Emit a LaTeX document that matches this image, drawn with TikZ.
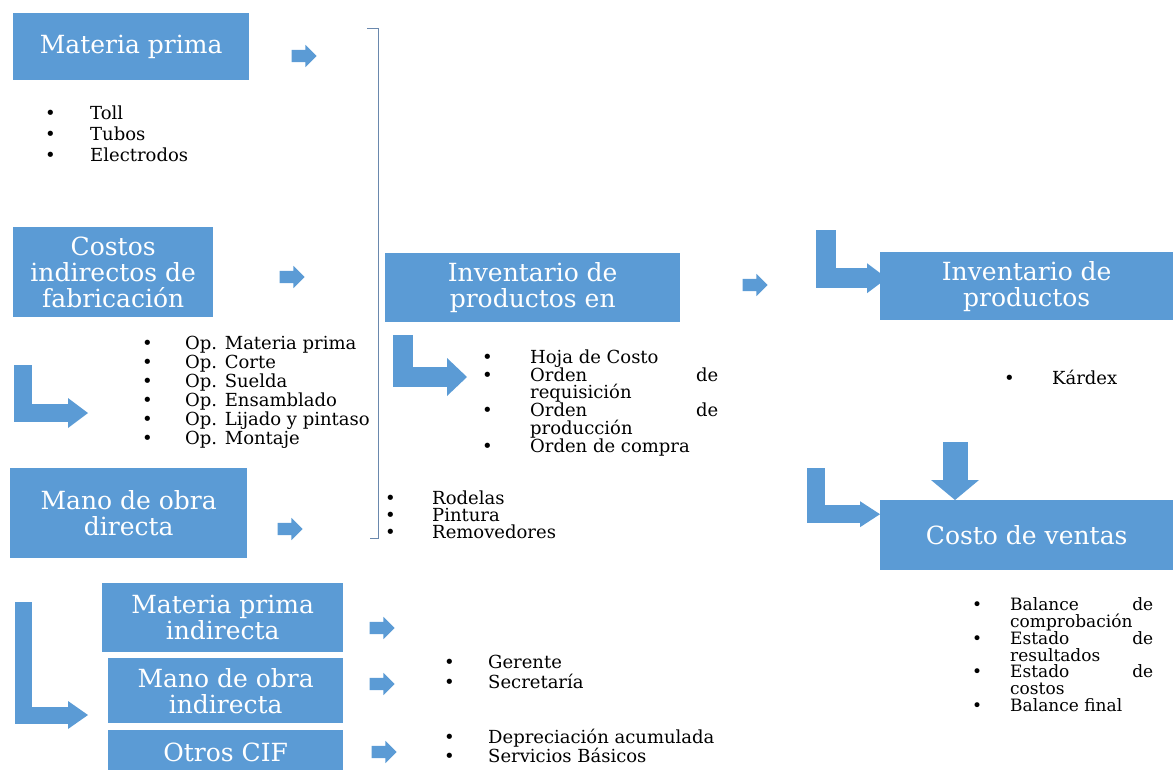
\documentclass[tikz,border=0pt]{standalone}
\usepackage{fontspec}
\setmainfont{DejaVu Serif}
\usetikzlibrary{shapes.arrows,arrows.meta}

\definecolor{boxblue}{HTML}{5B9BD5}
\definecolor{brkline}{HTML}{6A88AD}

% bullet item and its continued line
\newcommand{\itm}[2][45pt]{\makebox[#1][l]{\textbullet}#2}
\newcommand{\cont}[2][45pt]{\hspace*{#1}#2}

\begin{document}
\begin{tikzpicture}[x=1pt, y=-1pt,
                    box/.style={rectangle, fill=boxblue, text=white, align=center, inner sep=0pt, anchor=north west,
                                font=\fontsize{25}{26}\selectfont},
                    lst/.style={anchor=north west, inner sep=0pt, align=left},
                    arr/.style={single arrow, fill=boxblue, minimum height=25pt, inner xsep=0pt, inner ysep=6pt,
                                single arrow head extend=5pt, text height=0pt, text depth=0pt},
                    fat/.style 2 args={draw=boxblue, line width=#1, line join=miter,
                                       -{Triangle[length=20pt, width=#2, line width=0pt]}}]
\useasboundingbox (0,0) rectangle (1173,769);
\clip (0,0) rectangle (1173,769);

% boxes
\node[box, minimum width=236pt, minimum height=67pt] (mp) at (13,13) {Materia prima};
\node[box, minimum width=200pt, minimum height=90pt] (cif) at (13,227) {Costos\\indirectos de\\fabricación};
\node[box, minimum width=237pt, minimum height=90pt] (mod) at (10,468) {Mano de obra\\directa};
\node[box, minimum width=241pt, minimum height=69pt] (mpi) at (102,583) {Materia prima\\indirecta};
\node[box, minimum width=235pt, minimum height=65pt] (moi) at (108,658) {Mano de obra\\indirecta};
\node[box, minimum width=235pt, minimum height=44pt] (otr) at (108,730) {Otros CIF};
\node[box, minimum width=295pt, minimum height=69pt] (ipe) at (385,253) {Inventario de\\productos en};
\node[box, minimum width=293pt, minimum height=68pt] (ipt) at (880,252) {Inventario de\\productos};
\node[box, minimum width=293pt, minimum height=70pt] (cv) at (880,500) {Costo de ventas};

% lists
\node[lst, font=\fontsize{18}{21}\selectfont] (tl) at (45,106)
  {\itm{Toll}\\\itm{Tubos}\\\itm{Electrodos}};
\node[lst, font=\fontsize{18}{19}\selectfont] (op) at (142,335.5)
  {\itm[43pt]{Op. Materia prima}\\\itm[43pt]{Op. Corte}\\\itm[43pt]{Op. Suelda}\\
   \itm[43pt]{Op. Ensamblado}\\\itm[43pt]{Op. Lijado y pintaso}\\\itm[43pt]{Op. Montaje}};
\node[lst, font=\fontsize{18}{17.8}\selectfont] (docs) at (482,349.5)
  {\itm[48pt]{Hoja de Costo}\\\itm[48pt]{\makebox[188pt][s]{Orden de}}\\\cont[48pt]{requisición}\\
   \itm[48pt]{\makebox[188pt][s]{Orden de}}\\\cont[48pt]{producción}\\\itm[48pt]{Orden de compra}};
\node[lst, font=\fontsize{18}{17.2}\selectfont] (rod) at (385,490.5)
  {\itm[47pt]{Rodelas}\\\itm[47pt]{Pintura}\\\itm[47pt]{Removedores}};
\node[lst, font=\fontsize{18}{20}\selectfont] (kdx) at (1004,369.5) {\itm[48pt]{Kárdex}};
\node[lst, font=\fontsize{18}{20}\selectfont] (ger) at (444,654.5)
  {\itm[44pt]{Gerente}\\\itm[44pt]{Secretaría}};
\node[lst, font=\fontsize{18}{18}\selectfont] (dep) at (444,729)
  {\itm[44pt]{Depreciación acumulada}\\\itm[44pt]{Servicios Básicos}};
\node[lst, font=\fontsize{17}{16.8}\selectfont] (bal) at (972,597.5)
  {\itm[38pt]{\makebox[143pt][s]{Balance de}}\\\cont[38pt]{comprobación}\\
   \itm[38pt]{\makebox[143pt][s]{Estado de}}\\\cont[38pt]{resultados}\\
   \itm[38pt]{\makebox[143pt][s]{Estado de}}\\\cont[38pt]{costos}\\\itm[38pt]{Balance final}};

% small arrows
\node[arr] (a1) at (301,56) {};
\node[arr] (a2) at (289,277) {};
\node[arr] (a3) at (287,529) {};
\node[arr] (a4) at (379,628) {};
\node[arr] (a5) at (379,684) {};
\node[arr] (a6) at (381,752) {};
\node[arr] (a7) at (752,285) {};

% bracket
\draw[brkline, line width=1pt] (367,28) -- (378,28) -- (378,538) -- (370,538);

% bent arrows
\coordinate (l1) at (23,365);
\coordinate (l1e) at (88,413);
\coordinate (l2) at (23,602);
\coordinate (l2e) at (88,715);
\coordinate (l3) at (403,335);
\coordinate (l3e) at (467,377);
\coordinate (l4) at (826,230);
\coordinate (l5) at (816,468);
\coordinate (dn) at (955,442);
\draw[fat={18pt}{30pt}] (l1) |- (l1e);
\draw[fat={17pt}{28pt}] (l2) |- (l2e);
\draw[fat={20pt}{38pt}] (l3) |- (l3e);
\draw[fat={20pt}{30pt}] (l4) |- ([xshift=7pt,yshift=8pt]ipt.west);
\draw[fat={18pt}{26pt}] (l5) |- ([yshift=21pt]cv.west);
\draw[fat={25pt}{48pt}] (dn) -- (dn |- cv.north);
\end{tikzpicture}
\end{document}
